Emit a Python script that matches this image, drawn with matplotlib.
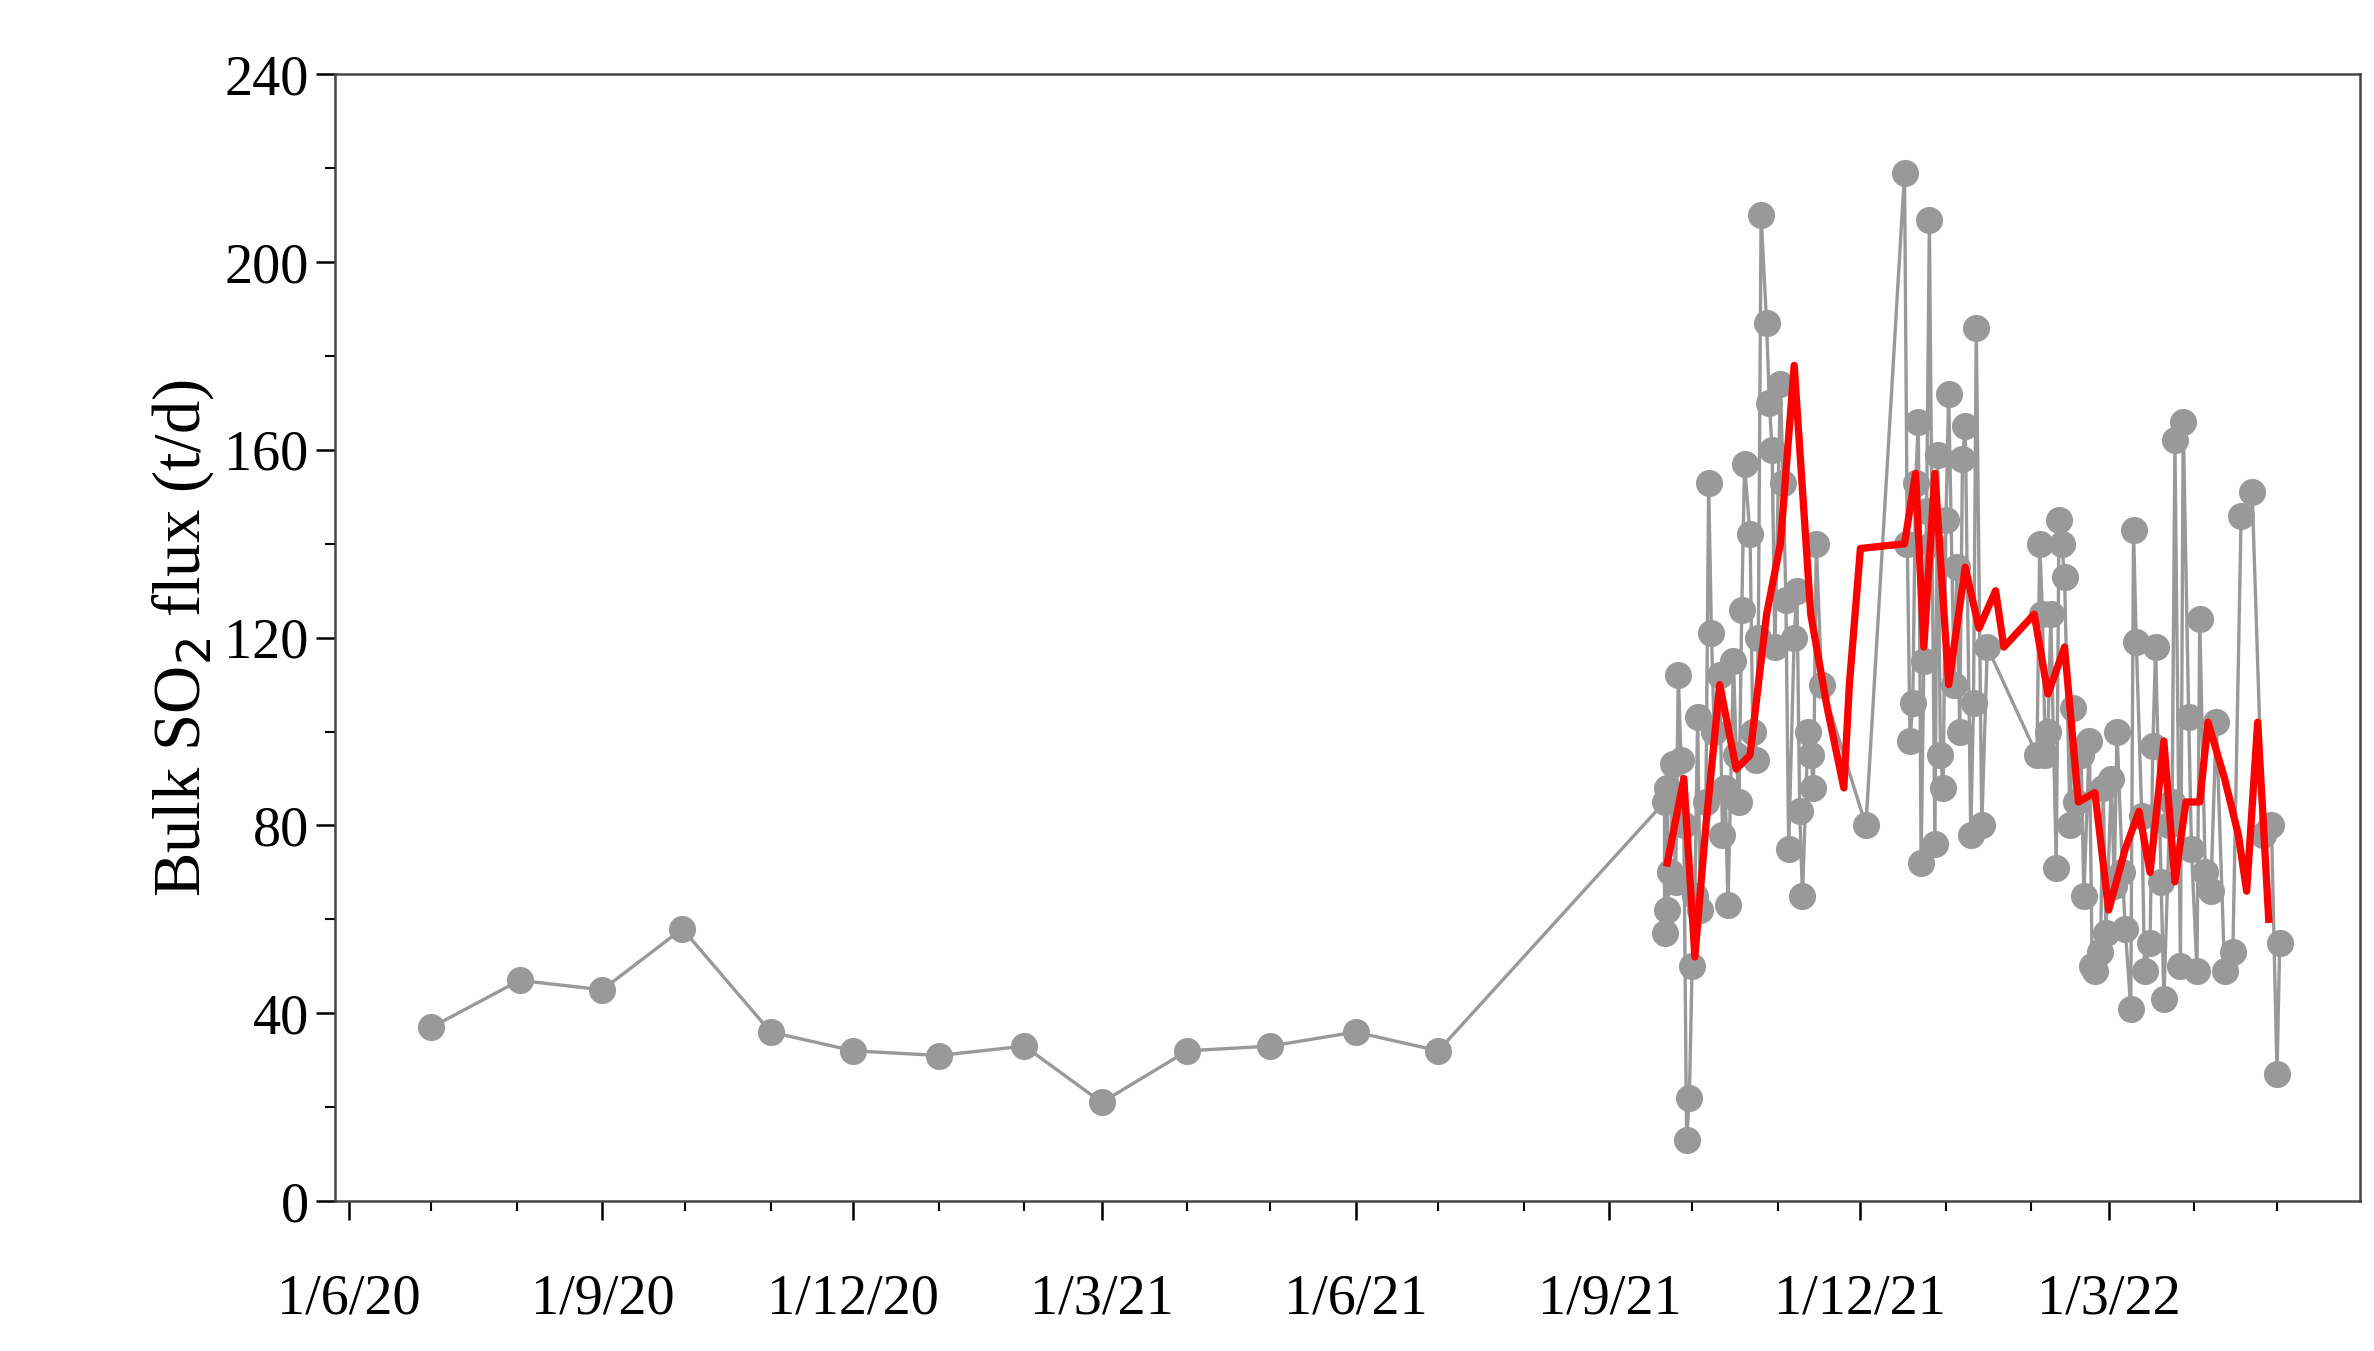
import datetime as dt
import matplotlib
matplotlib.use("Agg")
import matplotlib.pyplot as plt
import matplotlib.dates as mdates

plt.rcParams['font.family'] = ['Liberation Serif', 'DejaVu Serif']

# early, sparse measurements
sparse_dates = ["2020-07-01", "2020-08-02", "2020-09-01", "2020-09-30", "2020-11-01",
                "2020-12-01", "2021-01-01", "2021-02-01", "2021-03-01", "2021-04-01",
                "2021-05-01", "2021-06-01", "2021-07-01"]
sparse_vals = [37, 47, 45, 58, 36, 32, 31, 33, 21, 32, 33, 36, 32]

# dense period: days counted from 1 Sep 2021
dense_days = [20, 20, 21, 21, 22, 23, 24, 25, 26, 27, 28, 29, 30, 31, 32, 33, 35, 36, 37, 38,
              40, 41, 42, 43, 45, 46, 47, 48, 49, 51, 52, 53, 54, 55, 57, 58, 59, 60, 62, 63,
              64, 65, 67, 68, 69, 70, 72, 73, 74, 75, 77, 93,
              107, 108, 109, 110, 111, 112, 113, 114, 115, 116, 117, 118, 119, 120, 121, 122,
              123, 125, 126, 127, 128, 129, 131, 132, 133, 135, 137,
              155, 156, 157, 158, 159, 160, 162, 163, 164, 165, 167, 168, 169, 171, 172, 174,
              175, 176, 178, 179, 180, 182, 183, 184, 186, 187, 189, 190, 191, 193, 194, 196,
              197, 198, 200, 201, 203, 204, 205, 207, 208, 210, 211, 213, 214, 216, 218, 220,
              223, 226, 229, 233, 237, 240, 242, 243]
dense_vals = [85, 57, 88, 62, 70, 93, 68, 112, 94, 80, 13, 22, 50, 65, 103, 62, 85, 153, 121, 100,
              112, 78, 88, 63, 115, 95, 85, 126, 157, 142, 100, 94, 120, 210, 187, 170, 160, 118, 174, 153,
              128, 75, 120, 130, 83, 65, 100, 95, 88, 140, 110, 80,
              219, 140, 98, 106, 153, 166, 72, 115, 147, 209, 140, 76, 159, 95, 88, 145,
              172, 110, 135, 100, 158, 165, 78, 106, 186, 80, 118,
              95, 140, 125, 95, 100, 125, 71, 145, 140, 133, 80, 105, 85, 95, 65, 98,
              50, 49, 53, 88, 57, 90, 67, 100, 70, 58, 41, 143, 119, 82, 49, 55,
              97, 118, 68, 43, 80, 85, 162, 50, 166, 103, 75, 49, 124, 70, 66, 102,
              49, 53, 146, 151, 78, 80, 27, 55]

# smoothed curve (red), days from 1 Sep 2021
smooth_days = [21, 27, 31, 35, 40, 46, 51, 57, 62, 67, 73, 79, 85, 87, 91, 107, 111, 114, 118,
               123, 129, 134, 140, 143, 154, 159, 165, 170, 176, 181, 187, 192, 196, 201, 205,
               209, 214, 217, 223, 228, 231, 235, 239]
smooth_vals = [72, 90, 52, 80, 110, 92, 95, 125, 140, 178, 125, 105, 88, 110, 139, 140, 155,
               118, 155, 110, 135, 122, 130, 118, 125, 108, 118, 85, 87, 62, 75, 83, 70, 98,
               68, 85, 85, 102, 90, 78, 66, 102, 60]

base = dt.datetime(2021, 9, 1)
gray_x = [dt.datetime.fromisoformat(d) for d in sparse_dates] + [base + dt.timedelta(days=d) for d in dense_days]
gray_y = sparse_vals + dense_vals
red_x = [base + dt.timedelta(days=d) for d in smooth_days]

fig = plt.figure(figsize=(2374 / 150, 1351 / 150), dpi=150)
ax = fig.add_axes([0.141, 0.111, 0.853, 0.834])

ax.plot(gray_x, gray_y, color='#999999', lw=1.6, marker='o', ms=12, mec='#999999', mfc='#999999', zorder=2)
ax.plot(red_x, smooth_vals, color='red', lw=3.5, zorder=3)

ax.set_ylim(0, 240)
ax.set_yticks(range(0, 241, 40))
ax.set_yticks(range(0, 241, 20), minor=True)
ax.set_xlim(dt.datetime(2020, 5, 27), dt.datetime(2022, 5, 31))
ax.xaxis.set_major_locator(mdates.MonthLocator(bymonth=[3, 6, 9, 12]))
ax.xaxis.set_minor_locator(mdates.MonthLocator())
ax.xaxis.set_major_formatter(plt.FuncFormatter(
    lambda v, p: (lambda d: f"{d.day}/{d.month}/{d.strftime('%y')}")(mdates.num2date(v))))

ax.tick_params(which='major', direction='out', length=9, width=1.2, labelsize=27, colors='black')
ax.tick_params(which='minor', direction='out', length=5, width=1.0)
ax.tick_params(axis='x', pad=26)
for s in ax.spines.values():
    s.set_color('#444444')
    s.set_linewidth(1.2)

ax.set_ylabel('Bulk SO$_2$ flux (t/d)', fontsize=32)

fig.savefig('out.png', dpi=150)
